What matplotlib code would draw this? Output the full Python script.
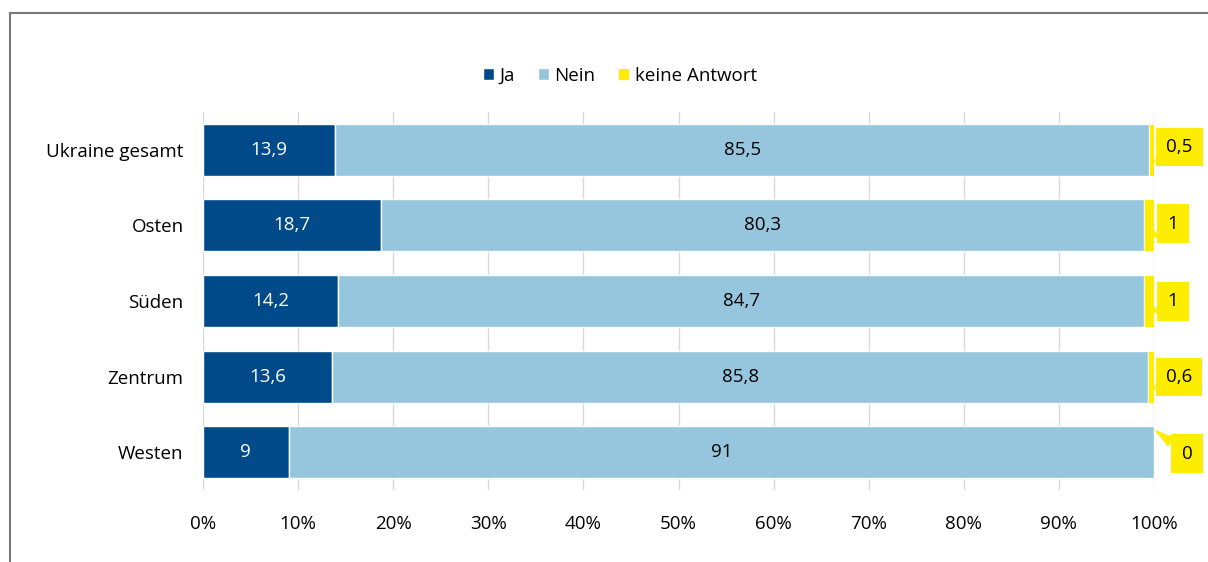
import numpy as np
import matplotlib.pyplot as plt
from matplotlib.lines import Line2D
from matplotlib.ticker import FuncFormatter

plt.rcParams['font.family'] = ['Open Sans', 'DejaVu Sans']

regions = ['Ukraine gesamt', 'Osten', 'Süden', 'Zentrum', 'Westen']
ja = [13.9, 18.7, 14.2, 13.6, 9]
nein = [85.5, 80.3, 84.7, 85.8, 91]
keine = [0.5, 1, 1, 0.6, 0]
keine_labels = ['0,5', '1', '1', '0,6', '0']
series_names = ['Ja', 'Nein', 'keine Antwort']

c_ja = '#004a8a'
c_nein = '#95c6de'
c_keine = '#ffed00'
fs = 13.5

fig = plt.figure(figsize=(12.08, 5.62), dpi=100)
ax = fig.add_axes([203 / 1208, 1 - 490 / 562, 951 / 1208, 378 / 562])

y = np.arange(len(regions))
h = 0.69
ja = np.array(ja)
nein = np.array(nein)
keine = np.array(keine)
total = ja + nein + keine
# stacked to 100%
ja_n = ja / total * 100
nein_n = nein / total * 100
keine_n = keine / total * 100

ax.barh(y, ja_n, height=h, color=c_ja, edgecolor='white', linewidth=1, label=series_names[0], zorder=3)
ax.barh(y, nein_n, left=ja_n, height=h, color=c_nein, edgecolor='white', linewidth=1, label=series_names[1], zorder=3)
ax.barh(y, keine_n, left=ja_n + nein_n, height=h, color=c_keine, edgecolor='white', linewidth=0.6, label=series_names[2], zorder=3)

fmt = lambda v: ('%g' % v).replace('.', ',')
for i in range(len(regions)):
    ax.text(ja_n[i] / 2, i, fmt(ja[i]), ha='center', va='center', color='white', fontsize=fs, zorder=4)
    ax.text(ja_n[i] + nein_n[i] / 2, i, fmt(nein[i]), ha='center', va='center', color='black', fontsize=fs, zorder=4)

# callouts for "keine Antwort"
targets = [0.15, 0.15, 0.15, 0.15, -0.3]
offsets = [(25, 14), (19, 13), (19, 11), (25, 11), (33, -24)]
for i in range(len(regions)):
    ax.annotate(keine_labels[i], xy=(100, i + targets[i]), xytext=offsets[i],
                textcoords='offset pixels', ha='center', va='center', fontsize=fs,
                bbox=dict(boxstyle='square,pad=0.55', fc=c_keine, ec='none'),
                arrowprops=dict(arrowstyle='wedge,tail_width=0.6,shrink_factor=0.5', fc=c_keine, ec='none',
                                shrinkA=0, shrinkB=0),
                annotation_clip=False, zorder=5)

ax.set_xlim(0, 100)
ax.set_ylim(len(regions) - 0.5, -0.5)
ax.set_yticks(y)
ax.set_yticklabels(regions, fontsize=fs)
ax.set_xticks(np.arange(0, 101, 10))
ax.xaxis.set_major_formatter(FuncFormatter(lambda v, p: '%d%%' % v))
ax.tick_params(axis='x', labelsize=fs, length=0, pad=18)
ax.tick_params(axis='y', length=0, pad=14)
ax.grid(axis='x', color='#d9d9d9', linewidth=1, zorder=0)
for s in ax.spines.values():
    s.set_visible(False)

fig.legend(loc='center', bbox_to_anchor=(620 / 1208, 1 - 76 / 562), ncol=3, frameon=False,
           fontsize=fs, handlelength=0.6, handleheight=0.6, handletextpad=0.3, columnspacing=1.2)

# outer frame
fig.add_artist(Line2D([10 / 1208, 1.0], [1 - 13 / 562, 1 - 13 / 562], color='#777777', linewidth=1.5))
fig.add_artist(Line2D([10 / 1208, 10 / 1208], [1 - 13 / 562, 0], color='#777777', linewidth=1.5))

fig.savefig('out.png', dpi=100)
